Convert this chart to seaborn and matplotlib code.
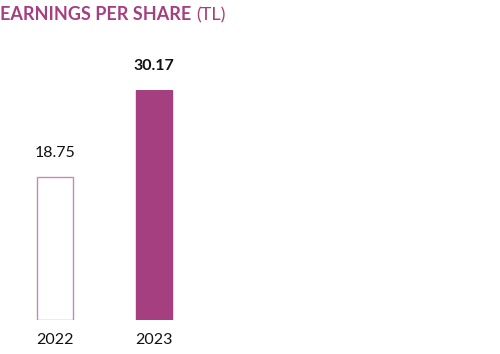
import matplotlib
matplotlib.use("Agg")
import matplotlib.pyplot as plt
import seaborn as sns
import pandas as pd

years = ["2022", "2023"]
eps = [18.75, 30.17]
fills = ["white", "#a53f80"]
edges = ["#c48bb0", "#a53f80"]

purple = "#a53f80"

sns.set_style("white")
plt.rcParams["font.family"] = ["Lato", "DejaVu Sans"]

df = pd.DataFrame({"year": years, "eps": eps})

fig = plt.figure(figsize=(5, 3.54), dpi=100)
# axes placed so bars sit where they do in the reference
ax = fig.add_axes([0, 34 / 354, 1, 230 / 354])
sns.barplot(data=df, x="year", y="eps", ax=ax, width=0.364, color=purple)

for patch, fc, ec in zip(ax.patches, fills, edges):
    patch.set_facecolor(fc)
    patch.set_edgecolor(ec)
    patch.set_linewidth(1.0)

ax.set_xlim(-55 / 99, 445 / 99)
ax.set_ylim(0, max(eps))
ax.axis("off")

for i, v in enumerate(eps):
    ax.annotate(f"{v:.2f}", (i, v), xytext=(0, 12), textcoords="offset points",
                ha="center", va="bottom", fontsize=11.5,
                fontweight="bold" if i == 1 else "normal", color="#111111")
    ax.annotate(years[i], (i, 0), xytext=(0, -9), textcoords="offset points",
                ha="center", va="top", fontsize=11.5, color="#111111")

t1 = fig.text(0.0, 1 - 15 / 354, "EARNINGS PER SHARE", fontsize=13,
              fontweight="bold", color=purple, va="center", ha="left")
fig.canvas.draw()
bb = t1.get_window_extent()
fig.text(bb.x1 / fig.bbox.width + 0.01, 1 - 15 / 354, "(TL)", fontsize=13,
         color=purple, va="center", ha="left")

plt.savefig("out.png", dpi=100)
